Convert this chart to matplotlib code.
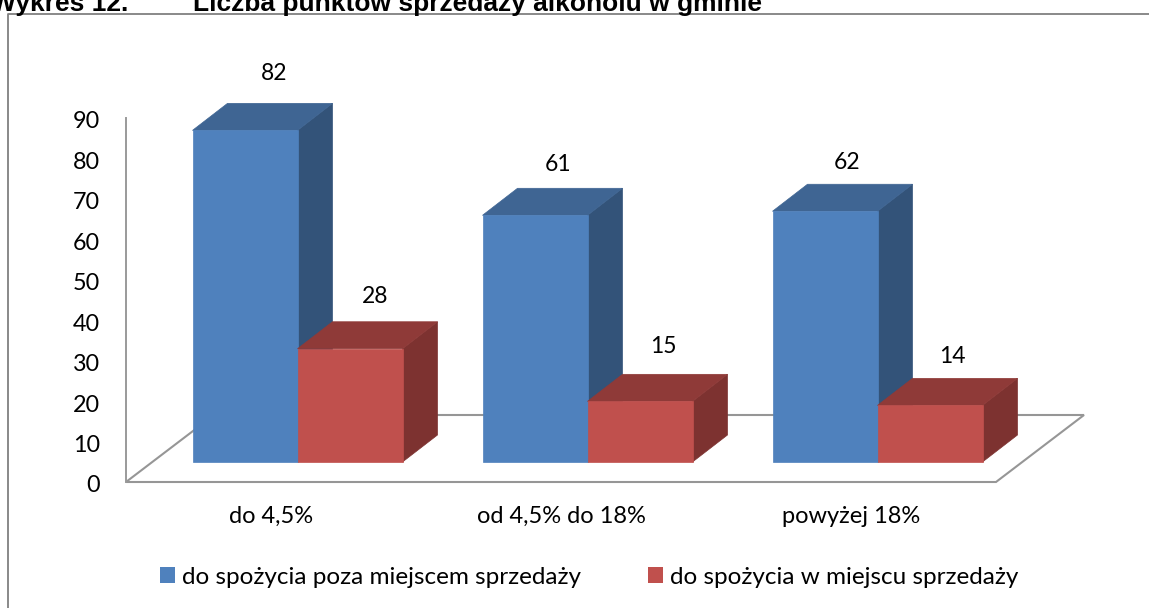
import numpy as np
import matplotlib
matplotlib.use('Agg')
import matplotlib.pyplot as plt
from matplotlib.patches import Polygon, Patch
from matplotlib.lines import Line2D
from matplotlib.transforms import IdentityTransform, Affine2D

categories = ['do 4,5%', 'od 4,5% do 18%', 'powyżej 18%']
poza_miejscem = [82, 61, 62]
w_miejscu = [28, 15, 14]
legend_labels = ['do spożycia poza miejscem sprzedaży', 'do spożycia w miejscu sprzedaży']
yticks = [0, 10, 20, 30, 40, 50, 60, 70, 80, 90]

W, H = 1149, 608
plt.rcParams['font.family'] = ['Lato', 'DejaVu Sans']

fig = plt.figure(figsize=(W/100, H/100), dpi=100)
ax = fig.add_axes([126/W, (H-482)/H, 870/W, 364/H])
ax.set_xlim(-0.5, 2.5)
ax.set_ylim(0, 90)
ax.patch.set_visible(False)
for s in ['top', 'right', 'bottom']:
    ax.spines[s].set_visible(False)
ax.spines['left'].set_color('#9a9a9a')
ax.spines['left'].set_linewidth(1.4)

ax.set_yticks(yticks)
ax.set_xticks(range(3))
ax.set_xticklabels(categories)
ax.tick_params(axis='y', length=0, pad=18.5, labelsize=16.8)
ax.tick_params(axis='x', length=0, pad=17, labelsize=17)
# labels sit a little lower in the original
for lab in ax.get_yticklabels():
    lab.set_transform(lab.get_transform() + Affine2D().translate(0, -2))

px = IdentityTransform()
grey = '#969696'

# floor of the 3d box, in pixels
x0, y0 = ax.transData.transform((-0.5, 0))
x1, _ = ax.transData.transform((2.5, 0))
fdx, fdy = 88, 67
ax.add_patch(Polygon([(x0, y0), (x1, y0), (x1+fdx, y0+fdy), (x0+fdx, y0+fdy)], closed=True,
                     fc='none', ec=grey, lw=1.5, transform=px, clip_on=False, zorder=1))

bar_w = 105/290
bdx, bdy = 35, 27
off_x, off_y = 26.5, 20


def box(xa, xb, val, front, top, side):
    # one 3d bar: front, top and side faces
    (ax_, by), (bx, ty) = ax.transData.transform([(xa, 0), (xb, val)])
    ax_, bx = ax_ + off_x, bx + off_x
    by, ty = by + off_y, ty + off_y
    faces = [([(bx, by), (bx+bdx, by+bdy), (bx+bdx, ty+bdy), (bx, ty)], side),
             ([(ax_, ty), (bx, ty), (bx+bdx, ty+bdy), (ax_+bdx, ty+bdy)], top),
             ([(ax_, by), (bx, by), (bx, ty), (ax_, ty)], front)]
    for pts, c in faces:
        ax.add_patch(Polygon(pts, closed=True, fc=c, ec=c, lw=0.5, transform=px,
                             clip_on=False, zorder=2))
    return (ax_ + bx)/2, ty


blue = ('#4F81BD', '#3F6593', '#335379')
red = ('#C0504D', '#8F3A38', '#7D3230')
nudge_blue = [(29, 57), (23, 51), (22, 49)]
nudge_red = [(25, 52), (23, 55), (22, 49)]

for i in range(3):
    cx, ty = box(i-bar_w, i, poza_miejscem[i], *blue)
    ax.text(cx+nudge_blue[i][0], ty+nudge_blue[i][1], str(poza_miejscem[i]), transform=px,
            ha='center', va='center', fontsize=16.5, clip_on=False, zorder=3)
    cx, ty = box(i, i+bar_w, w_miejscu[i], *red)
    ax.text(cx+nudge_red[i][0], ty+nudge_red[i][1], str(w_miejscu[i]), transform=px,
            ha='center', va='center', fontsize=16.5, clip_on=False, zorder=3)

# outer frame of the chart, runs off the page on the right and bottom
fig.add_artist(Line2D([8/W, 8/W, 1], [0, (H-14)/H, (H-14)/H], color='#808080', lw=1.3))

fig.text(128/W, (H-11)/H, 'Wykres 12.', fontsize=19, fontweight='bold', family='Liberation Sans',
         ha='right', va='baseline')
fig.text(193/W, (H-11)/H, 'Liczba punktów sprzedaży alkoholu w gminie', fontsize=19, fontweight='bold',
         family='Liberation Sans', ha='left', va='baseline')

handles = [Patch(fc=blue[0]), Patch(fc=red[0])]
fig.legend(handles, legend_labels, ncol=2, frameon=False, fontsize=17.5,
           loc='center left', bbox_to_anchor=(160/W, (H-577)/H), borderaxespad=0, borderpad=0,
           handlelength=0.62, handleheight=0.62, handletextpad=0.29, columnspacing=2.75)

fig.savefig('out.png', dpi=100)
